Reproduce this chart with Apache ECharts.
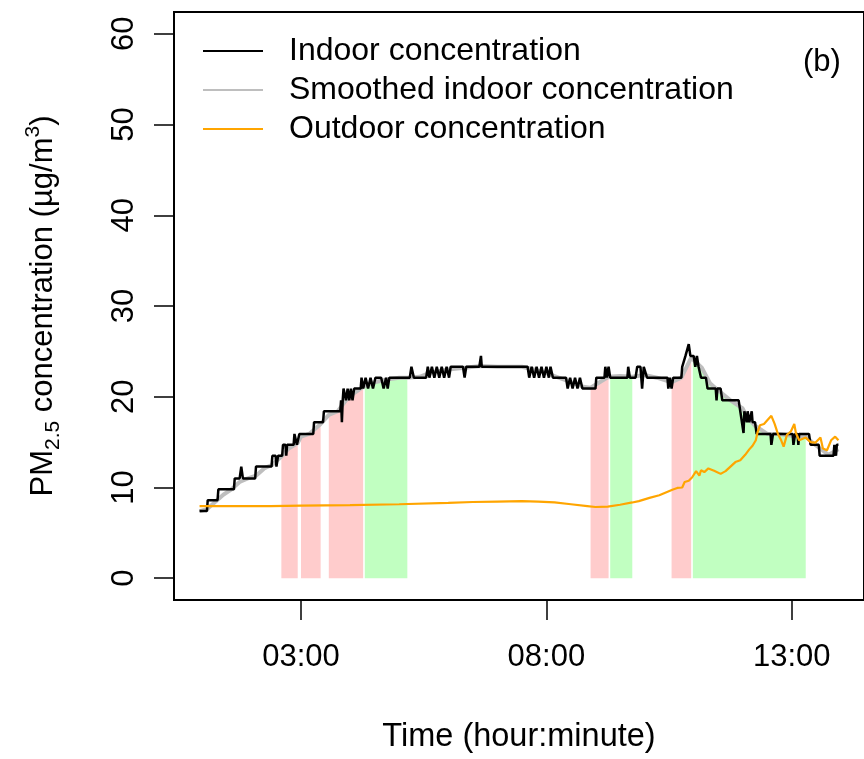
<!DOCTYPE html>
<html><head><meta charset="utf-8">
<script src="https://cdn.jsdelivr.net/npm/echarts@6/dist/echarts.min.js"></script>
<style>html,body{margin:0;padding:0;background:#fff}#c{width:864px;height:759px}</style>
</head><body><div id="c"></div>
<script>
const FONT = '"Liberation Sans", Arial, Helvetica, sans-serif';

const xTickLabels = ["03:00", "08:00", "13:00"];
const yTickValues = [0, 10, 20, 30, 40, 50, 60];
const legendNames = ["Indoor concentration", "Smoothed indoor concentration", "Outdoor concentration"];
const panelLabel = "(b)";

const indoor = [
 ["00:56",7.4],["01:05",7.4],["01:06",8.6],["01:18",8.6],["01:19",9.8],["01:38",9.8],["01:39",11.0],
 ["01:45",11.0],["01:47",12.3],["01:49",11.0],["02:04",11.0],["02:05",12.3],["02:24",12.3],["02:25",13.5],
 ["02:29",13.5],["02:30",12.3],["02:32",13.5],["02:37",13.5],["02:38",14.7],["02:41",14.7],["02:42",13.5],
 ["02:43",14.7],["02:51",14.7],["02:52",15.9],["02:55",14.7],["02:58",15.9],["03:15",15.9],["03:16",17.2],
 ["03:27",17.2],["03:28",18.4],["03:48",18.4],["03:49",19.6],["03:50",17.2],["03:51",19.6],["03:52",20.9],
 ["03:55",19.6],["03:57",20.9],["03:59",19.6],["04:01",20.9],["04:03",19.6],["04:05",20.9],["04:13",20.9],
 ["04:14",22.1],["04:16",20.9],["04:19",22.1],["04:22",20.9],["04:25",22.1],["04:28",20.9],["04:31",22.1],
 ["04:38",22.1],["04:41",20.9],["04:44",22.1],["04:46",20.9],["04:48",22.1],["05:13",22.1],["05:15",23.3],
 ["05:18",22.1],["05:33",22.1],["05:35",23.3],["05:37",22.1],["05:40",23.3],["05:43",22.1],["05:46",23.3],
 ["05:49",22.1],["05:52",23.3],["05:55",22.1],["05:58",23.3],["06:01",22.1],["06:03",23.3],["06:18",23.3],
 ["06:20",22.1],["06:22",23.3],["06:38",23.3],["06:40",24.5],["06:41",23.3],["07:37",23.3],["07:39",22.1],
 ["07:42",23.3],["07:45",22.1],["07:48",23.3],["07:51",22.1],["07:54",23.3],["07:57",22.1],["08:00",23.3],
 ["08:03",22.1],["08:05",23.3],["08:08",22.1],["08:24",22.1],["08:26",20.9],["08:29",22.1],["08:32",20.9],
 ["08:35",22.1],["08:38",20.9],["08:41",22.1],["08:44",20.9],["09:00",20.9],["09:01",22.1],["09:11",22.1],
 ["09:12",23.3],["09:14",22.1],["09:16",23.3],["09:18",22.1],["09:39",22.1],["09:40",23.3],["09:42",22.1],
 ["09:49",22.1],["09:51",23.3],["09:55",23.3],["09:57",20.9],["09:59",23.3],["10:01",23.3],["10:03",22.1],
 ["10:28",22.1],["10:29",20.9],["10:31",22.1],["10:33",20.9],["10:35",22.1],["10:45",22.1],["10:46",23.3],
 ["10:50",24.5],["10:54",25.8],["10:56",24.5],["11:00",24.5],["11:02",23.3],["11:04",24.5],["11:06",23.3],
 ["11:07",23.3],["11:09",22.1],["11:15",22.1],["11:17",20.9],["11:27",20.9],["11:28",19.6],["11:29",20.9],
 ["11:33",20.9],["11:35",19.6],["11:55",19.6],["11:57",18.4],["11:59",18.4],["12:01",16.0],["12:02",18.4],
 ["12:04",18.4],["12:05",17.2],["12:06",18.4],["12:08",17.2],["12:10",17.2],["12:11",18.4],["12:12",17.2],
 ["12:15",17.2],["12:17",15.9],["12:34",15.9],["12:35",14.7],["12:37",15.9],["13:01",15.9],["13:02",14.7],
 ["13:04",15.9],["13:07",15.9],["13:08",14.7],["13:09",15.9],["13:21",15.9],["13:23",14.7],["13:33",14.7],
 ["13:34",13.5],["13:51",13.5],["13:52",14.7],["13:54",13.5],["13:55",14.7],["13:57",14.7]
];

const smoothed = [
 ["00:56",7.4],["01:05",7.6],["01:15",8.4],["01:25",9.2],["01:35",9.8],["01:45",10.6],["01:55",11.0],
 ["02:05",11.3],["02:15",12.1],["02:25",12.5],["02:36",13.4],["02:45",14.3],["02:56",14.9],["03:00",15.6],
 ["03:10",15.9],["03:24",17.0],["03:34",18.0],["03:45",18.4],["03:55",19.6],["04:05",20.4],["04:16",21.1],
 ["04:18",21.2],["04:30",21.6],["04:45",21.9],["05:00",22.1],["05:10",22.1],["05:25",22.2],["05:40",22.7],
 ["06:00",23.0],["06:20",23.2],["06:40",23.4],["07:00",23.3],["07:30",23.3],["07:45",23.0],["08:00",22.6],
 ["08:15",22.1],["08:30",21.6],["08:45",21.1],["08:54",21.0],["09:05",21.6],["09:16",22.2],["09:18",22.2],
 ["09:30",22.3],["09:45",22.2],["10:00",22.4],["10:15",22.1],["10:33",21.6],["10:45",22.1],["10:57",24.3],
 ["10:59",24.4],["11:10",23.2],["11:20",21.5],["11:30",20.7],["11:45",19.6],["12:00",18.7],["12:05",17.8],
 ["12:15",16.8],["12:30",15.9],["12:45",15.9],["13:00",15.7],["13:17",15.6],["13:30",14.6],["13:45",13.6],
 ["13:57",14.2]
];

const outdoor = [
 ["00:56",7.95],["01:22",7.95],["01:23",7.75],["01:24",7.95],["01:53",7.95],["01:54",7.75],["01:55",7.95],
 ["02:23",7.95],["02:24",7.8],["02:25",8.0],["03:00",8.0],["04:00",8.05],["05:00",8.15],["06:00",8.3],
 ["06:30",8.4],["07:00",8.45],["07:30",8.5],["07:50",8.45],["08:10",8.35],["08:30",8.15],["08:50",7.95],
 ["09:00",7.85],["09:15",7.9],["09:30",8.1],["09:45",8.35],["09:53",8.5],["10:06",8.85],["10:18",9.15],
 ["10:34",9.75],["10:40",9.95],["10:46",10.0],["10:49",10.6],["10:54",10.75],["10:58",11.1],["11:03",11.8],
 ["11:07",11.3],["11:09",11.9],["11:13",11.7],["11:18",12.1],["11:25",11.85],["11:33",11.5],["11:39",11.8],
 ["11:45",12.3],["11:51",12.8],["11:57",13.0],["12:03",13.6],["12:08",14.2],["12:12",14.6],["12:16",15.2],
 ["12:18",16.05],["12:21",16.85],["12:26",17.0],["12:30",17.4],["12:35",17.9],["12:39",17.0],["12:43",15.9],
 ["12:47",15.2],["12:50",14.5],["12:54",15.8],["12:59",16.2],["13:03",17.0],["13:05",16.0],["13:09",15.2],
 ["13:17",15.5],["13:23",15.0],["13:29",14.95],["13:35",15.5],["13:38",14.3],["13:43",14.1],["13:48",15.2],
 ["13:53",15.6],["13:57",15.2]
];

// shaded periods: [start, end, kind]
const bands = [
 ["02:36","02:56","rise"],["03:00","03:24","rise"],["03:34","04:16","rise"],["04:18","05:10","fall"],
 ["08:54","09:16","rise"],["09:18","09:45","fall"],["10:33","10:57","rise"],["10:59","13:17","fall"]
];

const bandColors = {rise: "#FFCCCC", fall: "#C1FFC1"};

function toMin(s) { const p = s.split(":").map(Number); return p[0] * 60 + p[1]; }
function fmt(v) { const h = Math.floor(v / 60), m = Math.round(v % 60); return String(h).padStart(2, "0") + ":" + String(m).padStart(2, "0"); }
const pts = a => a.map(p => [toMin(p[0]), p[1]]);

const tAll = indoor.map(p => toMin(p[0]));
const t0 = Math.min(...tAll), t1 = Math.max(...tAll);
const pad = 0.04 * (t1 - t0);
const xMin = t0 - pad, xMax = t1 + pad;
const yMin = -0.04 * 60, yMax = 60 * 1.04;
const xTicks = xTickLabels.map(toMin);

const bandSeries = bands.map(b => {
  const s = toMin(b[0]), e = toMin(b[1]);
  return {
    type: "line", silent: true, symbol: "none", animation: false,
    data: pts(smoothed).filter(p => p[0] >= s && p[0] <= e),
    lineStyle: {width: 0, opacity: 0},
    areaStyle: {color: bandColors[b[2]], opacity: 1, origin: 0}
  };
});

const chart = echarts.init(document.getElementById("c"), null, {renderer: "canvas"});
chart.setOption({
  animation: false,
  backgroundColor: "#fff",
  textStyle: {fontFamily: FONT},
  grid: {left: 174, top: 12, width: 692, height: 595, show: true, borderColor: "#000", borderWidth: 2, backgroundColor: "transparent"},
  legend: {
    orient: "vertical", left: 203, top: 33, padding: 0, itemWidth: 60, itemHeight: 2, itemGap: 3,
    icon: "rect", selectedMode: false,
    itemStyle: {borderWidth: 0},
    textStyle: {fontSize: 32, color: "#000", fontFamily: FONT, lineHeight: 36, padding: [0, 0, 0, 21]},
    data: legendNames
  },
  xAxis: {
    type: "value", min: xMin, max: xMax,
    axisLine: {show: false, onZero: false},
    splitLine: {show: false},
    axisTick: {show: true, length: 20, inside: false, customValues: xTicks, lineStyle: {color: "#000", width: 1.5}},
    axisLabel: {customValues: xTicks, formatter: v => fmt(v), fontSize: 31, color: "#000", margin: 42, fontFamily: FONT},
    name: "Time (hour:minute)", nameLocation: "middle", nameGap: 121,
    nameTextStyle: {fontSize: 32.5, color: "#000", fontFamily: FONT}
  },
  yAxis: {
    type: "value", min: yMin, max: yMax,
    axisLine: {show: false, onZero: false},
    splitLine: {show: false},
    axisTick: {show: true, length: 20, inside: false, customValues: yTickValues, lineStyle: {color: "#000", width: 1.5}},
    axisLabel: {customValues: yTickValues, rotate: 90, fontSize: 31, color: "#000", margin: 34, fontFamily: FONT},
    name: "{a|PM}{s|2.5}{a| concentration (µg/m}{p|3}{a|)}",
    nameLocation: "middle", nameRotate: 90, nameGap: 110,
    nameTextStyle: {
      color: "#000", fontFamily: FONT, fontSize: 31,
      rich: {
        a: {fontSize: 31, lineHeight: 41, verticalAlign: "middle", color: "#000", fontFamily: FONT},
        s: {fontSize: 21, lineHeight: 21, verticalAlign: "bottom", color: "#000", fontFamily: FONT},
        p: {fontSize: 21, lineHeight: 21, verticalAlign: "top", color: "#000", fontFamily: FONT}
      }
    }
  },
  graphic: [{
    type: "text", x: 803, y: 62, silent: true,
    style: {text: panelLabel, fontSize: 31, fontFamily: FONT, fill: "#000", align: "left", verticalAlign: "middle"}
  }],
  series: bandSeries.concat([
    {name: legendNames[1], type: "line", symbol: "none", data: pts(smoothed),
     lineStyle: {color: "#BEBEBE", width: 4}, itemStyle: {color: "#BEBEBE"}},
    {name: legendNames[0], type: "line", symbol: "none", data: pts(indoor),
     lineStyle: {color: "#000000", width: 2.5}, itemStyle: {color: "#000000"}},
    {name: legendNames[2], type: "line", symbol: "none", data: pts(outdoor),
     lineStyle: {color: "#FFA500", width: 2.2}, itemStyle: {color: "#FFA500"}}
  ])
});
</script></body></html>
